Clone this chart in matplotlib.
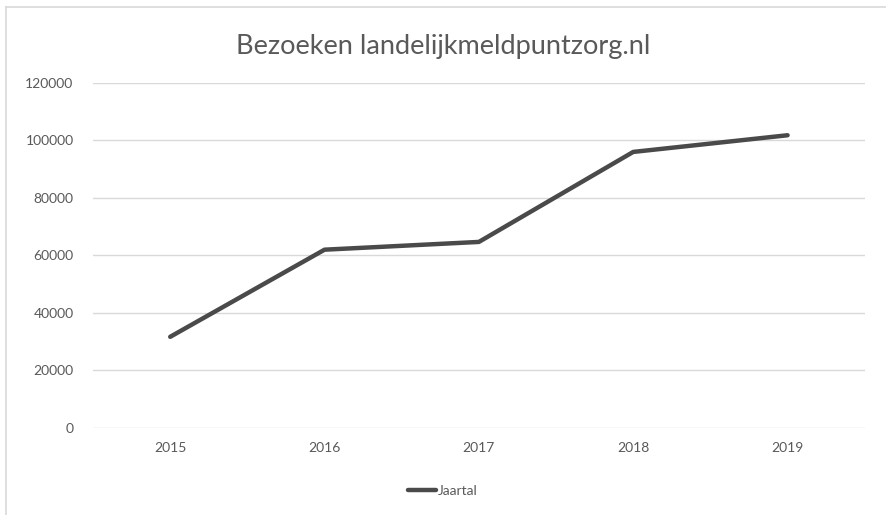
import matplotlib
matplotlib.use("Agg")
import matplotlib.pyplot as plt
from matplotlib.lines import Line2D

years = ["2015", "2016", "2017", "2018", "2019"]
visits = [31700, 62000, 64700, 96000, 101800]
y_ticks = [0, 20000, 40000, 60000, 80000, 100000, 120000]

plt.rcParams["font.family"] = ["Lato", "DejaVu Sans"]
TXT = "#595959"

fig = plt.figure(figsize=(8.86, 5.15), dpi=100)
ax = fig.add_axes([0.105, 0.169, 0.871, 0.670])

x = range(len(years))
ax.plot(x, visits, color="#4a4a4a", lw=3.2, solid_capstyle="round", label="Jaartal")
ax.set_xlim(-0.5, len(years) - 0.5)
ax.set_ylim(0, 120000)
ax.set_yticks(y_ticks)
ax.set_yticklabels([str(v) for v in y_ticks])
ax.set_xticks(list(x))
ax.set_xticklabels(years)
ax.grid(axis="y", color="#d9d9d9", lw=1)
ax.set_axisbelow(True)
for s in ax.spines.values():
    s.set_visible(False)
ax.tick_params(length=0, colors=TXT, labelsize=10)
ax.tick_params(axis="y", pad=14)
ax.tick_params(axis="x", pad=10)

fig.text(0.5, 0.91, "Bezoeken landelijkmeldpuntzorg.nl", ha="center", va="center",
         fontsize=19.5, color=TXT)
fig.legend(loc="center", bbox_to_anchor=(0.5, 0.046), frameon=False, fontsize=10,
           labelcolor=TXT, handlelength=2.0, handletextpad=0.15)

# chart frame (left and top edges visible)
fig.add_artist(Line2D([0.007, 0.007], [0, 0.986], color="#d9d9d9", lw=1.2))
fig.add_artist(Line2D([0.007, 1], [0.986, 0.986], color="#d9d9d9", lw=1.2))

fig.savefig("out.png", dpi=100)
